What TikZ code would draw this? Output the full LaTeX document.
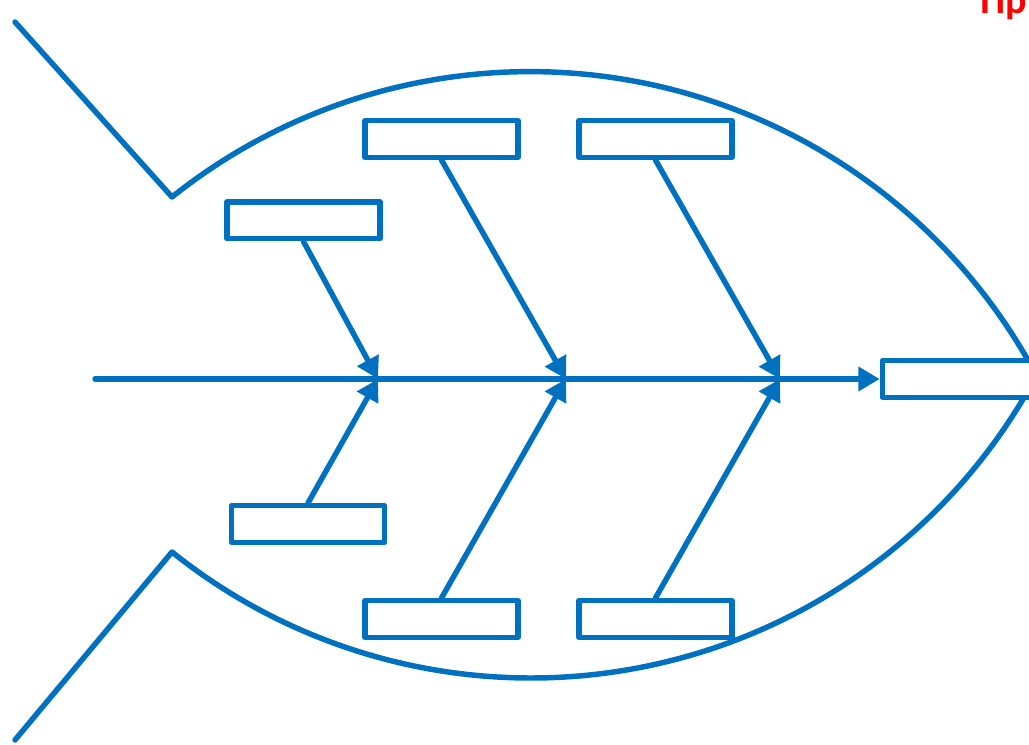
\documentclass[tikz,border=0pt]{standalone}
\usepackage{fontspec}
\newfontfamily\cyrfont{Carlito}
\usetikzlibrary{arrows.meta,positioning}
\definecolor{fishblue}{RGB}{0,112,192}

\begin{document}
\begin{tikzpicture}[x=0.75pt, y=-0.75pt, >={Triangle[length=16pt,width=17.5pt]},
  line cap=round, line join=round,
  bone/.style={draw=fishblue, line width=4.1pt},
  box/.style={draw=fishblue, line width=4.1pt, fill=white, inner sep=0pt,
              minimum width=115pt, minimum height=27.4pt}]
\useasboundingbox (0,0) rectangle (1029,745);
\clip (0,0) rectangle (1029,745);
% fish body
\draw[bone] (15,22) -- (172,197) arc[start angle=-128.6, end angle=-28.07, radius=573.9];
\draw[bone] (15,740) -- (172,552) arc[start angle=128.7, end angle=28.07, radius=573.9];
% spine
\coordinate (tail) at (95,379);
\coordinate (j1) at (378,379);
\coordinate (j2) at (566,379);
\coordinate (j3) at (780,379);
\node[box, minimum width=121.9pt] (head) at (963.75,379) {};
\draw[bone,->] (tail) -- (head.west);
% cause boxes
\node[box] (ta) at (441.5,139) {};
\node[box] (tb) at (655.5,139) {};
\node[box] (la) at (303.5,220.5) {};
\node[box] (lb) at (308,524) {};
\node[box] (ba) at (441.5,619) {};
\node[box] (bb) at (655.5,619) {};
% bones
\draw[bone,->] (la.south) -- (j1);
\draw[bone,->] (lb.north) -- (j1);
\draw[bone,->] (ta.south) -- (j2);
\draw[bone,->] (ba.north) -- (j2);
\draw[bone,->] (tb.south) -- (j3);
\draw[bone,->] (bb.north) -- (j3);
% cut title
\node[text=red, anchor=base west, inner sep=0pt,
      font=\cyrfont\bfseries\fontsize{30}{30}\selectfont] (title) at (980,14) {Пр};
\end{tikzpicture}
\end{document}
